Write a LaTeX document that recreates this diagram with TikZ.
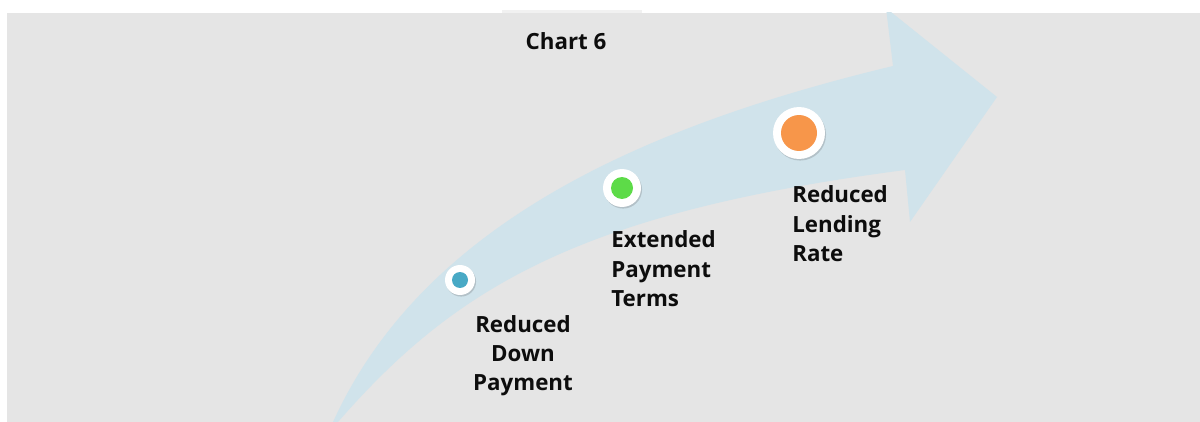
\documentclass[tikz,border=0pt]{standalone}
\usepackage{fontspec}
\setmainfont{Open Sans}
\usetikzlibrary{shadows}
\definecolor{panelgray}{HTML}{E5E5E5}
\definecolor{tabgray}{HTML}{F1F1F1}
\definecolor{bandblue}{HTML}{D0E3EB}
\definecolor{dotblue}{HTML}{48A9C5}
\definecolor{dotgreen}{HTML}{5DDB48}
\definecolor{dotorange}{HTML}{F7964A}
\definecolor{inkblack}{HTML}{0D0D0D}
\newcommand{\labelfont}{\fontsize{12.7}{16.7}\selectfont\bfseries}
\newcommand{\stack}[2]{\begin{tabular}[t]{@{}#1@{}}#2\end{tabular}}
\begin{document}
\begin{tikzpicture}[x=0.02cm,y=-0.02cm,
  ring/.style={circle, fill=white, inner sep=0pt,
    drop shadow={shadow xshift=0.6pt, shadow yshift=-0.9pt, opacity=0.22, fill=black!70}},
  core/.style={circle, inner sep=0pt},
  caption/.style={inner sep=0pt, text=inkblack, font=\labelfont}]
\useasboundingbox (0,0) rectangle (1200,422);
\fill[white] (0,0) rectangle (1200,422);
% panel
\fill[panelgray] (7,13) rectangle (1200,422);
\fill[tabgray] (502,10) rectangle (642,13);
% curved arrow
\begin{scope}
\clip (7,13) rectangle (1200,422);
\fill[bandblue]
  (330,432) -- (333,422)
  .. controls (423,224) and (643,126) .. (893,66)
  -- (886,8) -- (997,97) -- (910,222) -- (905,170)
  .. controls (585,212) and (458,284) .. (338,422)
  -- (335,432) -- cycle;
\end{scope}
% title
\node[caption, anchor=base] (title) at (566,50) {Chart 6};
% milestones
\node[ring, minimum size=0.6cm] (m1) at (460,280) {};
\node[core, fill=dotblue, minimum size=0.32cm] (c1) at (m1.center) {};
\node[ring, minimum size=0.76cm] (m2) at (622,188) {};
\node[core, fill=dotgreen, minimum size=0.44cm] (c2) at (m2.center) {};
\node[ring, minimum size=1.04cm] (m3) at (799,133) {};
\node[core, fill=dotorange, minimum size=0.72cm] (c3) at (m3.center) {};
% labels
\node[caption, anchor=base] (l1) at (523,332) {\stack{c}{Reduced\\Down\\Payment}};
\node[caption, anchor=base west] (l2) at (611,248) {\stack{l}{Extended\\Payment\\Terms}};
\node[caption, anchor=base west] (l3) at (792,203) {\stack{l}{Reduced\\Lending\\Rate}};
\end{tikzpicture}
\end{document}
